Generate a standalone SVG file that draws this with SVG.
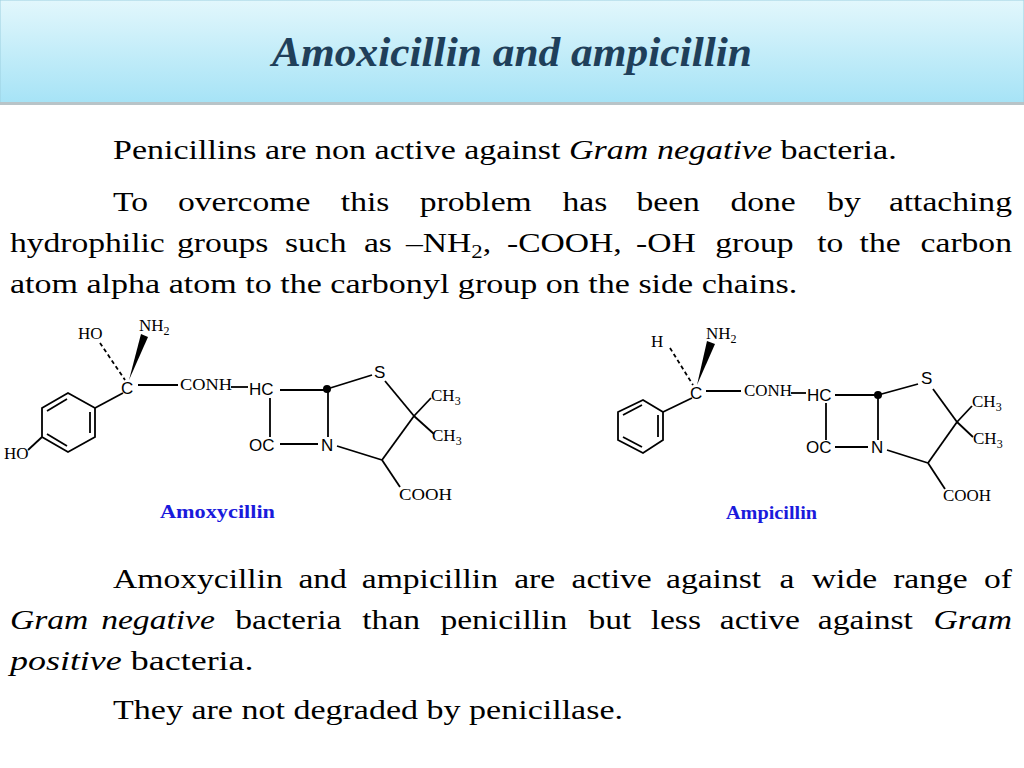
<svg xmlns="http://www.w3.org/2000/svg" width="1024" height="768" viewBox="0 0 1024 768">
<defs>
<linearGradient id="hg" x1="0" y1="0" x2="0" y2="1"><stop offset="0" stop-color="#e2f7fc"/><stop offset="1" stop-color="#a6e3f6"/></linearGradient>
</defs>
<style>
.b{font-family:"Liberation Serif",serif;font-size:28px;fill:#000}
.s{font-family:"Liberation Serif",serif;font-size:17px;fill:#000}
.a{font-family:"Liberation Sans",sans-serif;font-size:17px;fill:#000}
.l{stroke:#000;stroke-width:1.8;fill:none}
.lab{font-family:"Liberation Serif",serif;font-size:18px;font-weight:bold;fill:#1a1adc}
.i{font-style:italic}
.e{text-anchor:end}
</style>
<rect width="1024" height="768" fill="#fff"/>
<rect x="0" y="0" width="1024" height="103" fill="url(#hg)" stroke="#9ccfe0"/>
<rect x="0" y="102" width="1024" height="3" fill="#b8c4c8"/>
<text x="512" y="66" text-anchor="middle" font-family="'Liberation Serif',serif" font-style="italic" font-weight="bold" font-size="42" fill="#1f3f5a" textLength="480" lengthAdjust="spacingAndGlyphs">Amoxicillin and ampicillin</text>
<g transform="scale(1.2,1)">
<text class="b" x="94.2" y="159" textLength="653" lengthAdjust="spacingAndGlyphs">Penicillins are non active against <tspan class="i">Gram negative</tspan> bacteria.</text>
<g class="b">
<text x="94.2" y="211">To</text><text x="148.3" y="211">overcome</text><text x="284" y="211">this</text><text x="349.8" y="211">problem</text><text x="468.8" y="211">has</text><text x="530.4" y="211">been</text><text x="608.7" y="211">done</text><text x="689.4" y="211">by</text><text class="e" x="843.3" y="211">attaching</text>
<text x="8.3" y="252">hydrophilic</text><text x="147.5" y="252">groups</text><text x="237.5" y="252">such</text><text x="303.3" y="252">as</text><text x="338.3" y="252">–NH<tspan font-size="19" dy="6">2</tspan><tspan dy="-6">,</tspan></text><text x="422.5" y="252">-COOH,</text><text x="530" y="252">-OH</text><text x="596" y="252">group</text><text x="681" y="252">to</text><text x="716.3" y="252">the</text><text class="e" x="843.3" y="252">carbon</text>
</g>
<text class="b" x="8.3" y="293" textLength="656" lengthAdjust="spacingAndGlyphs">atom alpha atom to the carbonyl group on the side chains.</text>
<g class="b">
<text x="94.2" y="588">Amoxycillin</text><text x="248.7" y="588">and</text><text x="301.5" y="588">ampicillin</text><text x="428.5" y="588">are</text><text x="476.3" y="588">active</text><text x="555" y="588">against</text><text x="649.5" y="588">a</text><text x="676.5" y="588">wide</text><text x="744.3" y="588">range</text><text class="e" x="843.3" y="588">of</text>
<text class="i" x="8.3" y="629">Gram</text><text class="i" x="84.3" y="629">negative</text><text x="196" y="629">bacteria</text><text x="301.9" y="629">than</text><text x="367" y="629">penicillin</text><text x="490.4" y="629">but</text><text x="542.2" y="629">less</text><text x="599.8" y="629">active</text><text x="681.5" y="629">against</text><text class="i e" x="843.3" y="629">Gram</text>
</g>
<text class="b" x="8.3" y="670" textLength="203" lengthAdjust="spacingAndGlyphs"><tspan class="i">positive</tspan> bacteria.</text>
<text class="b" x="94.2" y="719" textLength="425" lengthAdjust="spacingAndGlyphs">They are not degraded by penicillase.</text>
</g>
<g id="amoxycillin">
<text class="s" x="78" y="339">HO</text>
<text class="s" x="139" y="331">NH<tspan font-size="12" dy="4">2</tspan></text>
<polygon points="129,380 141,334 148,337"/>
<line class="l" x1="100" y1="343" x2="125" y2="380" stroke-dasharray="4,3"/>
<text class="a" x="121" y="394">C</text>
<line class="l" x1="138" y1="385" x2="178" y2="385"/>
<text class="s" x="180" y="390" textLength="52" lengthAdjust="spacingAndGlyphs">CONH</text>
<line class="l" x1="231" y1="387" x2="248" y2="387"/>
<text class="a" x="249" y="395">HC</text>
<line class="l" x1="280" y1="390" x2="327" y2="390"/>
<circle cx="327" cy="389" r="4"/>
<line class="l" x1="327" y1="389" x2="372" y2="375"/>
<text class="a" x="374" y="378">S</text>
<line class="l" x1="385" y1="381" x2="414" y2="416"/>
<line class="l" x1="414" y1="416" x2="431" y2="398"/>
<line class="l" x1="414" y1="416" x2="434" y2="434"/>
<text class="s" x="431" y="401">CH<tspan font-size="12" dy="4">3</tspan></text>
<text class="s" x="432" y="441">CH<tspan font-size="12" dy="4">3</tspan></text>
<line class="l" x1="414" y1="416" x2="382" y2="460"/>
<line class="l" x1="382" y1="460" x2="337" y2="446"/>
<line class="l" x1="382" y1="460" x2="400" y2="487"/>
<text class="s" x="399" y="500" textLength="53" lengthAdjust="spacingAndGlyphs">COOH</text>
<line class="l" x1="328" y1="392" x2="328" y2="437"/>
<text class="a" x="321" y="451">N</text>
<line class="l" x1="270" y1="398" x2="270" y2="437"/>
<text class="a" x="249" y="451">OC</text>
<line class="l" x1="280" y1="444" x2="318" y2="444"/>
<line class="l" x1="123" y1="393" x2="95" y2="408"/>
<polygon class="l" points="95,408 95,437 68,452 42,437 42,408 68,393"/>
<line class="l" x1="90" y1="412" x2="90" y2="433"/>
<line class="l" x1="67" y1="446" x2="47" y2="434"/>
<line class="l" x1="47" y1="411" x2="67" y2="399"/>
<line class="l" x1="42" y1="437" x2="28" y2="450"/>
<text class="s" x="4" y="459">HO</text>
<text class="lab" x="160" y="518" textLength="115" lengthAdjust="spacingAndGlyphs">Amoxycillin</text>
</g>
<g id="ampicillin">
<text class="s" x="651" y="347">H</text>
<text class="s" x="706" y="339">NH<tspan font-size="12" dy="4">2</tspan></text>
<polygon points="697,385 707,341 715,344"/>
<line class="l" x1="670" y1="348" x2="693" y2="385" stroke-dasharray="4,3"/>
<text class="a" x="690" y="399">C</text>
<line class="l" x1="706" y1="391" x2="741" y2="391"/>
<text class="s" x="744" y="396" textLength="48" lengthAdjust="spacingAndGlyphs">CONH</text>
<line class="l" x1="791" y1="393" x2="806" y2="393"/>
<text class="a" x="807" y="401">HC</text>
<line class="l" x1="835" y1="395" x2="878" y2="395"/>
<circle cx="878" cy="395" r="4"/>
<line class="l" x1="878" y1="395" x2="918" y2="384"/>
<text class="a" x="921" y="384">S</text>
<line class="l" x1="933" y1="389" x2="957" y2="422"/>
<line class="l" x1="957" y1="422" x2="972" y2="406"/>
<line class="l" x1="957" y1="422" x2="973" y2="437"/>
<text class="s" x="972" y="407">CH<tspan font-size="12" dy="4">3</tspan></text>
<text class="s" x="973" y="444">CH<tspan font-size="12" dy="4">3</tspan></text>
<line class="l" x1="957" y1="422" x2="928" y2="463"/>
<line class="l" x1="928" y1="463" x2="887" y2="450"/>
<line class="l" x1="928" y1="463" x2="945" y2="489"/>
<text class="s" x="943" y="501" textLength="48" lengthAdjust="spacingAndGlyphs">COOH</text>
<line class="l" x1="878" y1="398" x2="878" y2="440"/>
<text class="a" x="871" y="453">N</text>
<line class="l" x1="826" y1="403" x2="826" y2="440"/>
<text class="a" x="806" y="453">OC</text>
<line class="l" x1="835" y1="447" x2="868" y2="447"/>
<line class="l" x1="692" y1="398" x2="663" y2="412"/>
<polygon class="l" points="643,400 663,412 663,440 643,453 618,440 618,412"/>
<line class="l" x1="658" y1="415" x2="658" y2="437"/>
<line class="l" x1="642" y1="447" x2="623" y2="437"/>
<line class="l" x1="623" y1="415" x2="642" y2="405"/>
<text class="lab" x="726" y="519" textLength="91" lengthAdjust="spacingAndGlyphs">Ampicillin</text>
</g>
</svg>
